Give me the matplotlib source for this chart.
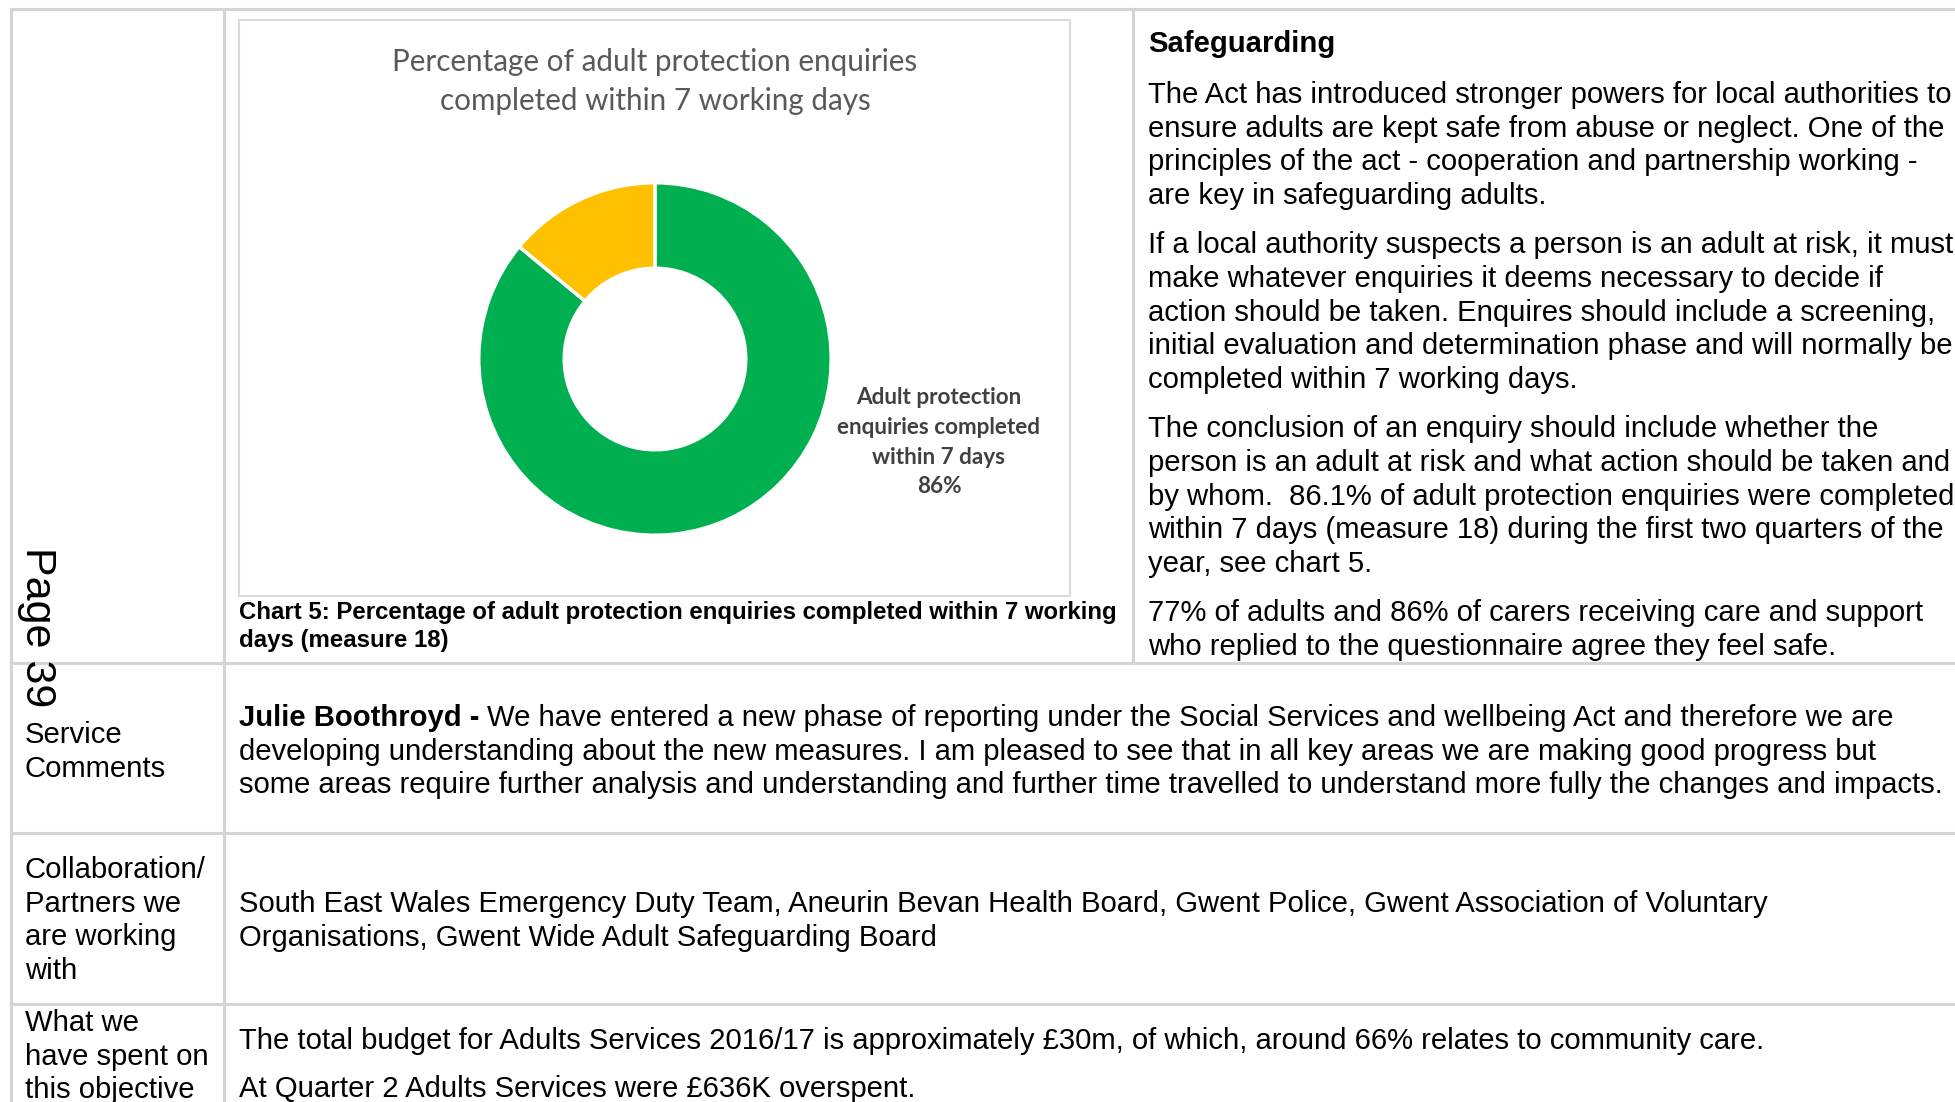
import matplotlib
matplotlib.use("Agg")
import matplotlib.pyplot as plt

# donut data
slice_names = ["Adult protection enquiries completed within 7 days", "Not completed within 7 days"]
slice_values = [86, 14]
slice_colors = ["#00B050", "#FFC000"]

chart_title = ["Percentage of adult protection enquiries", "completed within 7 working days"]
chart_caption = ["Chart 5: Percentage of adult protection enquiries completed within 7 working",
                 "days (measure 18)"]

safeguarding_head = "Safeguarding"
safeguarding_paras = [
    ["The Act has introduced stronger powers for local authorities to",
     "ensure adults are kept safe from abuse or neglect. One of the",
     "principles of the act - cooperation and partnership working -",
     "are key in safeguarding adults."],
    ["If a local authority suspects a person is an adult at risk, it must",
     "make whatever enquiries it deems necessary to decide if",
     "action should be taken. Enquires should include a screening,",
     "initial evaluation and determination phase and will normally be",
     "completed within 7 working days."],
    ["The conclusion of an enquiry should include whether the",
     "person is an adult at risk and what action should be taken and",
     "by whom.  86.1% of adult protection enquiries were completed",
     "within 7 days (measure 18) during the first two quarters of the",
     "year, see chart 5."],
    ["77% of adults and 86% of carers receiving care and support",
     "who replied to the questionnaire agree they feel safe."],
]

comments_author = "Julie Boothroyd - "
comments_lines = [
    "We have entered a new phase of reporting under the Social Services and wellbeing Act and therefore we are",
    "developing understanding about the new measures. I am pleased to see that in all key areas we are making good progress but",
    "some areas require further analysis and understanding and further time travelled to understand more fully the changes and impacts.",
]
partners_lines = [
    "South East Wales Emergency Duty Team, Aneurin Bevan Health Board, Gwent Police, Gwent Association of Voluntary",
    "Organisations, Gwent Wide Adult Safeguarding Board",
]
spend_lines = [
    "The total budget for Adults Services 2016/17 is approximately \u00a330m, of which, around 66% relates to community care.",
    "At Quarter 2 Adults Services were \u00a3636K overspent.",
]

W, H = 1955, 1102
BODY = "Liberation Sans"
CHART = "Lato"
fs = 21.1
line_h = 33.6
grid = "#d4d4d4"

fig = plt.figure(figsize=(W / 100, H / 100), dpi=100)
page = fig.add_axes([0, 0, 1, 1])
page.set_xlim(0, W)
page.set_ylim(H, 0)
page.axis("off")

# table rules
for y in [9, 663, 833, 1004]:
    page.plot([11, W], [y, y], color=grid, lw=2.2)
page.plot([11, 11], [9, H], color=grid, lw=2.2)
page.plot([224, 224], [9, H], color=grid, lw=2.2)
page.plot([1133, 1133], [9, 663], color=grid, lw=2.2)

# chart frame
page.add_patch(plt.Rectangle((239, 20), 831, 576, fill=False, ec="#d9d9d9", lw=1.5))


def put(x, y, s, **kw):
    kw.setdefault("fontsize", fs)
    kw.setdefault("family", BODY)
    kw.setdefault("va", "center")
    return page.text(x, y, s, **kw)


# donut
cx, cy, r = 655, 359, 178
pie_ax = fig.add_axes([(cx - r) / W, 1 - (cy + r) / H, 2 * r / W, 2 * r / H])
pie_ax.pie(slice_values, colors=slice_colors, startangle=90, counterclock=False,
           radius=1, wedgeprops=dict(width=0.485, edgecolor="white", linewidth=2.5))
pie_ax.set_xlim(-1.01, 1.01)
pie_ax.set_ylim(-1.01, 1.01)
pie_ax.set_aspect("equal")

for i, t in enumerate(chart_title):
    put(655, 62 + 39 * i, t, ha="center", family=CHART, fontsize=21.3, color="#595959")

label = ["Adult protection", "enquiries completed", "within 7 days", f"{slice_values[0]}%"]
for i, t in enumerate(label):
    put(939, 398 + 29.5 * i, t, ha="center", family=CHART, fontsize=16.2,
        color="#404040", weight="bold")

for i, t in enumerate(chart_caption):
    put(239, 613 + 28 * i, t, fontsize=17.3, weight="bold")

# right column
put(1148, 44, safeguarding_head, weight="bold")
y = 95
for para in safeguarding_paras:
    for t in para:
        put(1148, y, t)
        y += line_h
    y += 16

# page number down the margin
put(37, 627, "Page 39", rotation=-90, ha="center", fontsize=31)

# lower rows
put(25, 735, "Service")
put(25, 769, "Comments")
author = put(239, 718, comments_author, weight="bold")
renderer = fig.canvas.get_renderer()
author_w = author.get_window_extent(renderer).width
put(239 + author_w, 718, comments_lines[0])
put(239, 752, comments_lines[1])
put(239, 785, comments_lines[2])

for i, t in enumerate(["Collaboration/", "Partners we", "are working", "with"]):
    put(25, 870 + line_h * i, t)
for i, t in enumerate(partners_lines):
    put(239, 904 + line_h * i, t)

for i, t in enumerate(["What we", "have spent on", "this objective"]):
    put(25, 1023 + line_h * i, t)
put(239, 1041, spend_lines[0])
put(239, 1089, spend_lines[1])

fig.savefig("out.png", dpi=100)
